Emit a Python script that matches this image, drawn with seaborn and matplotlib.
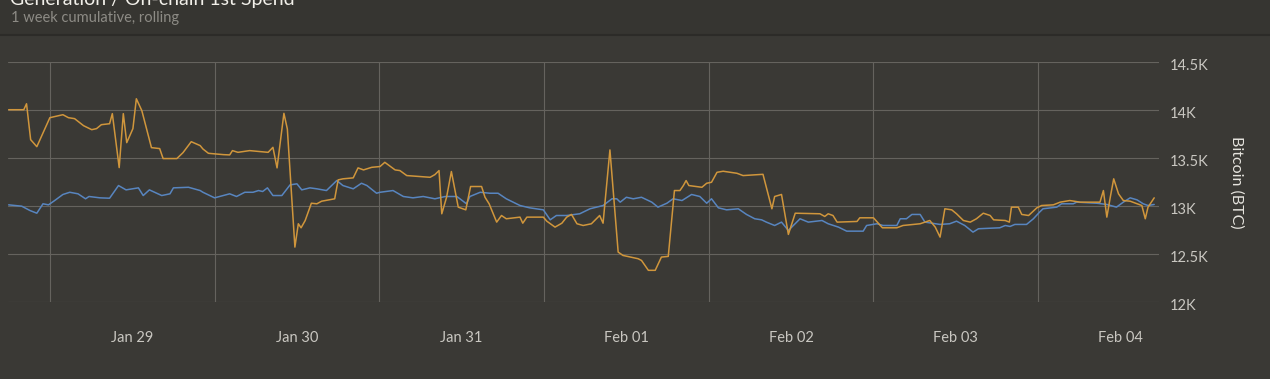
import pandas as pd
import matplotlib.pyplot as plt
import matplotlib.dates as mdates
import matplotlib.transforms as mtransforms
from matplotlib.ticker import FuncFormatter, NullFormatter
import seaborn as sns

# hours since Jan 29 00:00 and cumulative BTC
spend_hours = [-6.0, -3.8, -3.4, -2.8, -1.9, 0.0, 1.9, 2.7, 3.6, 4.9, 6.1, 6.8, 7.5, 8.7, 9.1,
               10.1, 10.7, 11.2, 12.1, 12.6, 13.4, 14.8, 16.0, 16.5, 18.5, 19.4, 20.6, 21.9,
               22.3, 23.1, 25.3, 26.2, 26.6, 27.4, 29.1, 31.8, 32.5, 33.1, 34.1, 34.6, 35.7,
               36.2, 36.6, 37.2, 38.1, 38.9, 39.6, 41.5, 42.0, 42.7, 44.2, 44.9, 45.7, 46.9,
               48.1, 48.8, 50.3, 51.0, 52.0, 55.4, 56.1, 56.7, 57.1, 57.8, 58.5, 59.5, 60.6,
               61.3, 62.9, 63.4, 64.0, 65.1, 65.8, 66.5, 68.5, 68.9, 69.5, 71.9, 72.4, 73.6,
               74.6, 75.3, 76.0, 76.8, 77.7, 78.9, 80.1, 80.6, 81.6, 82.8, 83.5, 85.7, 86.2,
               87.2, 88.2, 89.1, 90.1, 91.0, 91.8, 92.3, 92.7, 93.1, 95.0, 95.7, 96.4, 97.2,
               98.1, 100.1, 101.0, 103.9, 105.2, 105.6, 106.6, 107.6, 108.6, 112.2, 112.9,
               113.4, 114.1, 114.7, 117.6, 118.0, 120.0, 121.3, 123.4, 124.3, 126.8, 128.2,
               129.0, 129.7, 130.4, 131.4, 132.1, 133.1, 134.1, 135.0, 136.0, 137.0, 137.5,
               139.2, 139.8, 140.1, 141.1, 141.6, 142.6, 143.8, 144.5, 146.2, 147.2, 148.6,
               150.1, 153.0, 153.5, 154.0, 154.5, 155.0, 155.7, 156.4, 157.4, 158.4, 159.1,
               159.6, 160.0, 160.9]
spend_btc = [14003, 14003, 14065, 13691, 13618, 13920, 13951, 13920, 13910, 13837, 13795, 13806,
             13847, 13857, 13962, 13400, 13962, 13660, 13806, 14117, 13993, 13608, 13598, 13494,
             13494, 13556, 13670, 13629, 13594, 13549, 13535, 13532, 13577, 13559, 13577, 13559,
             13611, 13397, 13965, 13802, 12572, 12815, 12773, 12849, 13029, 13023, 13050, 13075,
             13272, 13283, 13293, 13397, 13376, 13403, 13411, 13455, 13376, 13369, 13317, 13299,
             13327, 13369, 12919, 13091, 13359, 12988, 12960, 13203, 13203, 13091, 13023, 12832,
             12901, 12867, 12884, 12821, 12884, 12884, 12842, 12780, 12821, 12884, 12912, 12815,
             12797, 12815, 12901, 12821, 13584, 12520, 12485, 12451, 12433, 12330, 12330, 12468,
             12475, 13161, 13161, 13213, 13265, 13213, 13195, 13237, 13247, 13351, 13362, 13341,
             13317, 13330, 12971, 13099, 13120, 12704, 12925, 12919, 12891, 12919, 12901, 12832,
             12839, 12877, 12877, 12773, 12773, 12797, 12815, 12849, 12780, 12676, 12971, 12960,
             12919, 12849, 12832, 12867, 12925, 12901, 12856, 12849, 12832, 12988, 12988, 12912,
             12901, 12981, 13005, 13012, 13040, 13057, 13040, 13040, 13161, 12884, 13091, 13283,
             13127, 13057, 13050, 13023, 13005, 12867, 12988, 13085]

gen_hours = [-6.0, -4.1, -2.9, -1.9, -1.0, -0.2, 0.7, 1.9, 2.9, 4.1, 5.2, 5.7, 7.3, 8.7, 10.0,
             11.1, 12.9, 13.6, 14.5, 16.3, 17.5, 18.0, 20.2, 21.9, 22.3, 24.0, 26.2, 27.2, 28.4,
             29.6, 30.4, 31.0, 31.7, 32.5, 33.8, 35.0, 36.0, 36.7, 37.9, 38.9, 40.3, 41.8, 42.7,
             44.2, 45.4, 46.2, 47.6, 48.1, 50.0, 51.5, 52.9, 54.4, 56.1, 57.6, 59.3, 60.7, 61.2,
             62.7, 64.1, 65.3, 66.5, 68.5, 69.9, 71.9, 72.9, 73.8, 75.3, 77.2, 78.7, 80.6, 81.9,
             82.6, 83.1, 84.0, 85.0, 86.2, 87.7, 88.6, 89.9, 90.8, 92.1, 93.5, 94.7, 95.7, 96.4,
             97.4, 98.6, 100.3, 101.5, 102.7, 103.7, 104.4, 105.6, 106.6, 107.6, 109.3, 110.5,
             112.5, 113.4, 114.9, 116.1, 118.5, 119.0, 120.5, 121.4, 123.4, 123.9, 124.8, 125.6,
             126.8, 127.5, 129.7, 131.1, 132.1, 133.3, 134.5, 135.3, 138.4, 139.2, 139.9, 140.6,
             142.3, 143.3, 144.2, 144.7, 146.7, 147.4, 149.1, 149.6, 152.5, 154.0, 155.4, 156.4,
             157.4, 158.4, 159.3, 160.0, 160.9]
gen_btc = [13012, 12998, 12953, 12925, 13023, 13012, 13057, 13120, 13143, 13127, 13075, 13099,
           13085, 13081, 13213, 13168, 13189, 13109, 13168, 13109, 13127, 13189, 13195, 13161,
           13143, 13085, 13127, 13099, 13143, 13143, 13161, 13151, 13189, 13109, 13109, 13220,
           13231, 13168, 13189, 13179, 13161, 13265, 13213, 13179, 13237, 13213, 13133, 13143,
           13161, 13099, 13085, 13099, 13075, 13099, 13099, 13023, 13099, 13143, 13133, 13133,
           13075, 13005, 12981, 12960, 12856, 12901, 12901, 12919, 12971, 13005, 13075, 13075,
           13040, 13091, 13075, 13091, 13040, 12988, 13029, 13075, 13057, 13120, 13099, 13029,
           13075, 12981, 12960, 12971, 12912, 12867, 12856, 12832, 12797, 12832, 12745, 12867,
           12832, 12849, 12815, 12780, 12738, 12738, 12797, 12815, 12797, 12797, 12867, 12867,
           12912, 12912, 12832, 12808, 12815, 12842, 12797, 12728, 12763, 12773, 12797, 12787,
           12808, 12808, 12867, 12936, 12971, 12988, 13023, 13023, 13040, 13029, 13016, 12988,
           13040, 13085, 13064, 13023, 13005, 13016]

y_ticks = [12000, 12500, 13000, 13500, 14000, 14500]

BG = "#3a3935"
GRID = "#65635e"
ORANGE = "#d0963c"
BLUE = "#5885bf"
TEXT = "#c9c7c1"

base = pd.Timestamp("2018-01-29")
spend_df = pd.DataFrame({"time": base + pd.to_timedelta(spend_hours, unit="h"), "btc": spend_btc})
gen_df = pd.DataFrame({"time": base + pd.to_timedelta(gen_hours, unit="h"), "btc": gen_btc})

sns.set_style("dark", {"axes.facecolor": BG, "figure.facecolor": BG})
plt.rcParams["font.family"] = ["Lato", "DejaVu Sans"]

fig = plt.figure(figsize=(12.7, 3.79), dpi=100)
fig.patch.set_facecolor(BG)
# header strip and separator
fig.add_artist(plt.Rectangle((0, 1 - 34 / 379), 1, 34 / 379, transform=fig.transFigure,
                             color="#363531", zorder=0))
fig.add_artist(plt.Line2D([0, 1], [1 - 35 / 379] * 2, transform=fig.transFigure,
                          color="#2c2b28", lw=1.5))

ax = fig.add_axes([8 / 1270, 1 - 302 / 379, 1151 / 1270, 240 / 379])
ax.set_facecolor(BG)

sns.lineplot(data=gen_df, x="time", y="btc", color=BLUE, lw=1.1, ax=ax)
sns.lineplot(data=spend_df, x="time", y="btc", color=ORANGE, lw=1.1, ax=ax)

ax.set_xlim(base + pd.Timedelta(hours=-6.1), base + pd.Timedelta(hours=161.6))
ax.set_ylim(12000, 14500)
ax.set_yticks(y_ticks)
ax.yaxis.set_major_formatter(FuncFormatter(lambda v, p: f"{v / 1000:g}K"))
ax.yaxis.tick_right()
ax.tick_params(axis="y", length=0, pad=8, labelsize=10.5, labelcolor=TEXT)
# labels sit a little below their grid lines
shift = mtransforms.ScaledTranslation(0, -3 / 100, fig.dpi_scale_trans)
for lbl in ax.get_yticklabels():
    lbl.set_transform(lbl.get_transform() + shift)

ax.xaxis.set_major_locator(mdates.DayLocator())
ax.xaxis.set_major_formatter(NullFormatter())
ax.xaxis.set_minor_locator(mdates.HourLocator(byhour=12))
ax.xaxis.set_minor_formatter(mdates.DateFormatter("%b %d"))
ax.tick_params(axis="x", which="both", length=0, pad=21, labelsize=10.5, labelcolor=TEXT)

ax.grid(True, axis="both", which="major", color=GRID, lw=0.8)
for s in ax.spines.values():
    s.set_visible(False)
ax.set_xlabel("")
ax.set_ylabel("")

fig.text(1236 / 1270, 1 - 182 / 379, "Bitcoin (BTC)", rotation=-90, color="#e6e4de",
         fontsize=11.5, ha="center", va="center")
fig.text(10 / 1270, 1 - 5 / 379, "Generation / On-chain 1st Spend", color="#f2f0ea",
         fontsize=14, ha="left", va="baseline")
fig.text(11 / 1270, 1 - 18 / 379, "1 week cumulative, rolling", color="#8d8b85",
         fontsize=10.5, ha="left", va="center")

fig.savefig("out.png", dpi=100, facecolor=BG)
